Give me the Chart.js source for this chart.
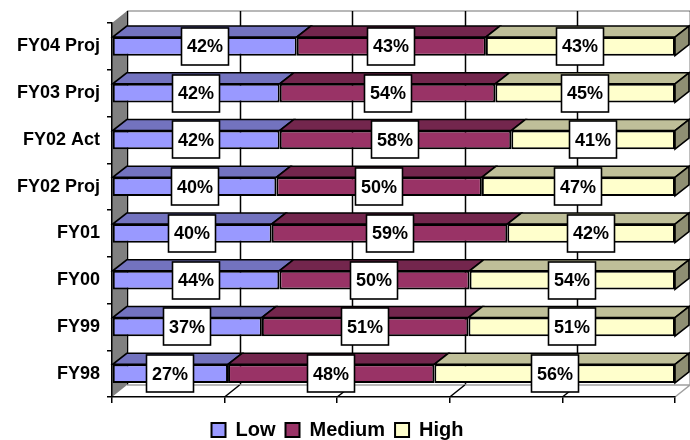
<!DOCTYPE html>
<html>
<head>
<meta charset="utf-8">
<script src="https://cdn.jsdelivr.net/npm/chart.js@4.4.1/dist/chart.umd.min.js"></script>
<style>
  html, body { margin: 0; padding: 0; background: #ffffff; }
  #wrap { width: 690px; height: 440px; }
</style>
</head>
<body>
<div id="wrap"><canvas id="c" width="690" height="440"></canvas></div>
<script>
// Categories in chronological order (drawn bottom to top)
const categories = ['FY98', 'FY99', 'FY00', 'FY01', 'FY02 Proj', 'FY02 Act', 'FY03 Proj', 'FY04 Proj'];
const seriesNames = ['Low', 'Medium', 'High'];
const lowValues    = [27, 37, 44, 40, 40, 42, 42, 42];
const mediumValues = [48, 51, 50, 59, 50, 58, 54, 43];
const highValues   = [56, 51, 54, 42, 47, 41, 45, 43];
const axisSteps    = [0, 20, 40, 60, 80, 100];

const FONT = '"Liberation Sans", Arial, Helvetica, sans-serif';
const FRONT = ['#9999FF', '#993366', '#FFFFCC'];
const TOP   = ['#7373BF', '#73264D', '#BFBF99'];
const SIDE  = ['#5C5C99', '#5C1F3D', '#8F8F73'];

// Each bar is stacked to 100%: segment length is its share of the row total
const rows = [lowValues, mediumValues, highValues];
const totals = categories.map((_, i) => rows.reduce((s, r) => s + r[i], 0));
const shareOf = arr => arr.map((v, i) => v / totals[i] * 100);

// Wall / floor depth and bar depth (pixels)
const WX = 15, WY = -12;
const BX = 14, BY = -11;

function poly(ctx, pts) {
  ctx.beginPath();
  ctx.moveTo(pts[0][0], pts[0][1]);
  for (let k = 1; k < pts.length; k++) ctx.lineTo(pts[k][0], pts[k][1]);
  ctx.closePath();
}

const depth3d = {
  id: 'depth3d',
  beforeDraw(chart) {
    const { ctx, chartArea: a, scales: { x } } = chart;
    ctx.save();
    // back wall
    ctx.fillStyle = '#ffffff';
    ctx.fillRect(a.left + WX, a.top + WY, a.right - a.left, a.bottom - a.top);
    ctx.strokeStyle = '#a0a0a0';
    ctx.lineWidth = 1.5;
    ctx.beginPath();
    ctx.moveTo(a.left + WX, a.top + WY);
    ctx.lineTo(a.right + WX, a.top + WY);
    ctx.stroke();
    // vertical gridlines on the back wall
    ctx.strokeStyle = '#000000';
    ctx.lineWidth = 1.5;
    x.ticks.forEach(t => {
      const px = Math.round(x.getPixelForValue(t.value) + WX) + 0.5;
      ctx.beginPath();
      ctx.moveTo(px, a.top + WY);
      ctx.lineTo(px, a.bottom + WY);
      ctx.stroke();
    });
    // floor
    ctx.fillStyle = '#ffffff';
    poly(ctx, [[a.left, a.bottom], [a.right, a.bottom], [a.right + WX, a.bottom + WY], [a.left + WX, a.bottom + WY]]);
    ctx.fill();
    ctx.strokeStyle = '#a0a0a0';
    ctx.lineWidth = 1.5;
    ctx.beginPath();
    ctx.moveTo(a.left + WX, a.bottom + WY);
    ctx.lineTo(a.right + WX, a.bottom + WY);
    ctx.moveTo(a.right, a.bottom);
    ctx.lineTo(a.right + WX, a.bottom + WY);
    ctx.stroke();
    ctx.strokeStyle = '#000000';
    x.ticks.forEach(t => {
      const px = x.getPixelForValue(t.value);
      if (t.value === 0 || t.value === 100) return;
      ctx.beginPath();
      ctx.moveTo(px, a.bottom);
      ctx.lineTo(px + WX, a.bottom + WY);
      ctx.stroke();
    });
    // left side wall
    ctx.fillStyle = '#808080';
    poly(ctx, [[a.left, a.top], [a.left + WX, a.top + WY], [a.left + WX, a.bottom + WY], [a.left, a.bottom]]);
    ctx.fill();
    ctx.restore();
  },
  afterDatasetsDraw(chart) {
    const { ctx } = chart;
    const n = chart.data.datasets.length;
    ctx.save();
    ctx.lineJoin = 'miter';
    ctx.strokeStyle = '#000000';
    ctx.lineWidth = 1.6;
    // top faces and the end cap of each stacked bar
    for (let i = 0; i < n; i++) {
      const meta = chart.getDatasetMeta(i);
      meta.data.forEach(bar => {
        const { x, y, base, height } = bar.getProps(['x', 'y', 'base', 'height'], true);
        const t = y - height / 2, b = y + height / 2;
        ctx.fillStyle = TOP[i];
        poly(ctx, [[base, t], [x, t], [x + BX, t + BY], [base + BX, t + BY]]);
        ctx.fill();
        ctx.stroke();
        if (i === n - 1) {
          ctx.fillStyle = SIDE[i];
          poly(ctx, [[x, t], [x + BX, t + BY], [x + BX, b + BY], [x, b]]);
          ctx.fill();
          ctx.stroke();
        }
      });
    }
    // value labels in boxes
    ctx.font = 'bold 18px ' + FONT;
    ctx.textAlign = 'center';
    ctx.textBaseline = 'middle';
    for (let i = 0; i < n; i++) {
      const ds = chart.data.datasets[i];
      const meta = chart.getDatasetMeta(i);
      meta.data.forEach((bar, j) => {
        const { x, y, base } = bar.getProps(['x', 'y', 'base'], true);
        const txt = ds.rawValues[j] + '%';
        const w = Math.round(ctx.measureText(txt).width + 11);
        const h = 37;
        const cx = Math.round((x + base) / 2);
        const bx = cx - w / 2, by = Math.round(y - h / 2);
        ctx.fillStyle = '#ffffff';
        ctx.fillRect(bx, by, w, h);
        ctx.lineWidth = 1.6;
        ctx.strokeRect(bx, by, w, h);
        ctx.fillStyle = '#000000';
        ctx.fillText(txt, cx, y + 1);
      });
    }
    ctx.restore();
  }
};

const datasets = rows.map((vals, i) => ({
  label: seriesNames[i],
  data: shareOf(vals),
  rawValues: vals,
  backgroundColor: FRONT[i],
  borderColor: '#000000',
  borderWidth: 2,
  borderSkipped: false,
  barPercentage: 0.4,
  categoryPercentage: 1.0
}));

new Chart(document.getElementById('c'), {
  type: 'bar',
  data: { labels: categories, datasets },
  plugins: [depth3d],
  options: {
    indexAxis: 'y',
    responsive: false,
    animation: false,
    devicePixelRatio: 1,
    layout: { padding: { top: 23, right: 15, left: 0, bottom: -10 } },
    scales: {
      x: {
        stacked: true,
        min: axisSteps[0],
        max: axisSteps[axisSteps.length - 1],
        ticks: { display: false, stepSize: axisSteps[1] - axisSteps[0] },
        grid: { drawOnChartArea: false, drawTicks: true, tickLength: 6, color: '#000000', lineWidth: 1.5 },
        border: { display: true, color: '#000000', width: 1.5 },
        afterFit(s) { s.height = 13; }
      },
      y: {
        stacked: true,
        reverse: true,
        ticks: { color: '#000000', padding: 7, font: { family: FONT, size: 18, weight: 'bold' } },
        grid: { drawOnChartArea: false, tickLength: 5, color: '#000000', lineWidth: 1.5 },
        border: { display: true, color: '#000000', width: 1.5 },
        afterFit(s) { s.width = 112; }
      }
    },
    plugins: {
      tooltip: { enabled: false },
      legend: {
        position: 'bottom',
        labels: {
          boxWidth: 14,
          boxHeight: 14,
          padding: 10,
          color: '#000000',
          font: { family: FONT, size: 20, weight: 'bold' }
        }
      }
    }
  }
});
</script>
</body>
</html>
